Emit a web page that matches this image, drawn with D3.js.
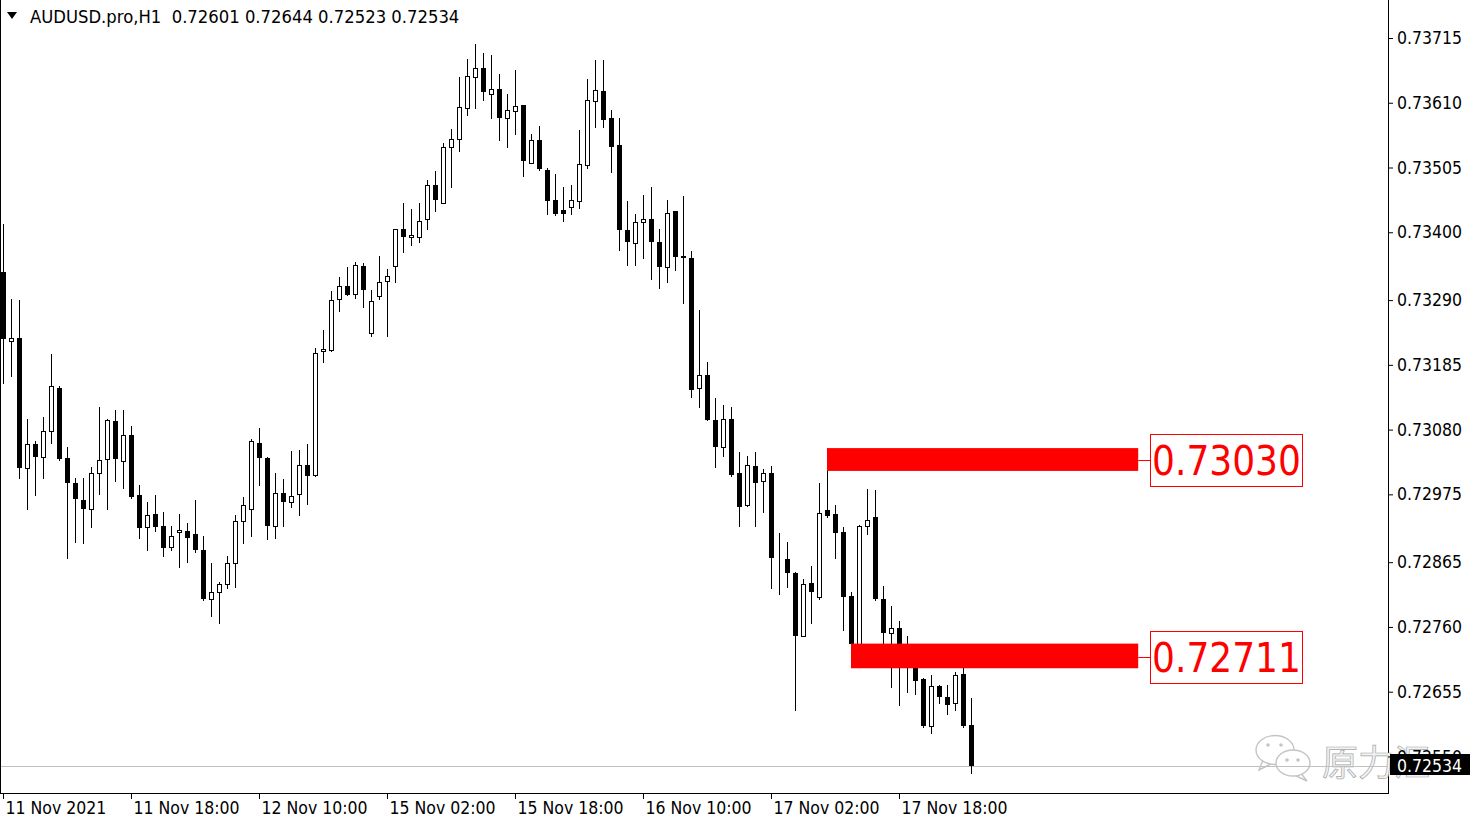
<!DOCTYPE html>
<html>
<head>
<meta charset="utf-8">
<title>AUDUSD.pro,H1</title>
<script src="https://cdn.jsdelivr.net/npm/d3@7"></script>
<style>
  body { margin: 0; background: #fff; }
  svg { display: block; font-family: "DejaVu Sans Condensed", "DejaVu Sans", sans-serif; font-stretch: condensed; }
</style>
</head>
<body>
<div id="chart"></div>
<script>
var symbol = "AUDUSD.pro,H1";

// hourly bars, 11 Nov 2021 02:00 onwards
var opens = [0.73336,0.73223,0.73229,0.73017,0.73056,0.73035,0.73078,0.73148,0.73034,0.72993,
  0.72966,0.72952,0.73009,0.73032,0.73094,0.73029,0.73071,0.72974,0.72922,0.72943,
  0.72923,0.72889,0.72914,0.72916,0.72910,0.72885,0.72806,0.72816,0.72829,0.72863,
  0.72931,0.72952,0.73059,0.73034,0.72924,0.72978,0.72962,0.72976,0.73023,0.73006,
  0.73207,0.73209,0.73292,0.73313,0.73300,0.73345,0.73236,0.73296,0.73321,0.73345,
  0.73406,0.73392,0.73392,0.73421,0.73476,0.73448,0.73538,0.73552,0.73601,0.73651,
  0.73666,0.73624,0.73633,0.73586,0.73597,0.73606,0.73513,0.73550,0.73501,0.73452,
  0.73436,0.73441,0.73451,0.73509,0.73613,0.73629,0.73586,0.73542,0.73404,0.73382,
  0.73416,0.73421,0.73384,0.73344,0.73434,0.73362,0.73358,0.73147,0.73168,0.73096,
  0.73052,0.73098,0.73009,0.72957,0.73021,0.72996,0.73009,0.72870,0.72870,0.72847,
  0.72746,0.72832,0.72808,0.72950,0.72943,0.72914,0.72810,0.72733,0.72923,0.72938,
  0.72805,0.72750,0.72758,0.72725,0.72694,0.72675,0.72600,0.72664,0.72646,0.72636,
  0.72684,0.72601];
var highs = [0.73413,0.73292,0.73290,0.73098,0.73062,0.73100,0.73202,0.73151,0.73052,0.73001,
  0.73001,0.73020,0.73116,0.73097,0.73112,0.73112,0.73086,0.72990,0.72963,0.72974,
  0.72946,0.72923,0.72943,0.72928,0.72966,0.72907,0.72863,0.72833,0.72875,0.72942,
  0.72971,0.73064,0.73082,0.73036,0.73009,0.73000,0.73046,0.73047,0.73057,0.73213,
  0.73242,0.73305,0.73328,0.73343,0.73352,0.73350,0.73307,0.73362,0.73340,0.73406,
  0.73447,0.73437,0.73447,0.73485,0.73499,0.73545,0.73567,0.73651,0.73681,0.73705,
  0.73690,0.73687,0.73657,0.73625,0.73663,0.73607,0.73560,0.73572,0.73505,0.73494,
  0.73474,0.73477,0.73566,0.73649,0.73679,0.73679,0.73598,0.73585,0.73451,0.73430,
  0.73460,0.73473,0.73406,0.73452,0.73435,0.73459,0.73370,0.73274,0.73190,0.73131,
  0.73120,0.73116,0.73044,0.73037,0.73044,0.73016,0.73021,0.72913,0.72897,0.72849,
  0.72837,0.72859,0.72993,0.73050,0.72958,0.72922,0.72817,0.72925,0.72983,0.72982,
  0.72826,0.72794,0.72769,0.72745,0.72695,0.72678,0.72682,0.72666,0.72666,0.72687,
  0.72706,0.72644];
var lows = [0.73155,0.73167,0.73001,0.72952,0.72974,0.73001,0.73059,0.73031,0.72871,0.72898,
  0.72896,0.72922,0.72975,0.72952,0.72996,0.72986,0.72969,0.72905,0.72885,0.72915,
  0.72875,0.72884,0.72857,0.72866,0.72882,0.72804,0.72777,0.72766,0.72823,0.72825,
  0.72896,0.72908,0.72990,0.72902,0.72905,0.72923,0.72954,0.72942,0.72960,0.73005,
  0.73190,0.73208,0.73272,0.73298,0.73293,0.73279,0.73231,0.73291,0.73232,0.73319,
  0.73368,0.73379,0.73385,0.73406,0.73435,0.73447,0.73474,0.73531,0.73590,0.73601,
  0.73615,0.73585,0.73550,0.73538,0.73559,0.73491,0.73512,0.73501,0.73429,0.73428,
  0.73419,0.73429,0.73439,0.73505,0.73570,0.73570,0.73498,0.73371,0.73347,0.73347,
  0.73358,0.73325,0.73309,0.73320,0.73339,0.73286,0.73133,0.73116,0.73095,0.73020,
  0.73038,0.73005,0.72923,0.72956,0.72923,0.72947,0.72823,0.72813,0.72824,0.72625,
  0.72745,0.72767,0.72806,0.72938,0.72871,0.72755,0.72725,0.72725,0.72911,0.72803,
  0.72713,0.72663,0.72634,0.72655,0.72652,0.72598,0.72588,0.72636,0.72619,0.72625,
  0.72598,0.72523];
var closes = [0.73227,0.73228,0.73018,0.73056,0.73035,0.73078,0.73151,0.73033,0.72993,0.72967,
  0.72952,0.73009,0.73031,0.73096,0.73032,0.73072,0.72970,0.72920,0.72942,0.72922,
  0.72888,0.72907,0.72917,0.72905,0.72884,0.72805,0.72817,0.72829,0.72863,0.72931,
  0.72957,0.73061,0.73034,0.72923,0.72978,0.72962,0.72972,0.73023,0.73005,0.73205,
  0.73210,0.73290,0.73313,0.73299,0.73347,0.73307,0.73289,0.73319,0.73329,0.73405,
  0.73392,0.73395,0.73419,0.73476,0.73453,0.73538,0.73552,0.73603,0.73653,0.73666,
  0.73627,0.73633,0.73586,0.73598,0.73605,0.73515,0.73550,0.73502,0.73451,0.73429,
  0.73430,0.73452,0.73511,0.73615,0.73631,0.73582,0.73539,0.73403,0.73385,0.73416,
  0.73421,0.73385,0.73344,0.73432,0.73360,0.73359,0.73145,0.73168,0.73096,0.73052,
  0.73098,0.73006,0.72955,0.73022,0.72993,0.73009,0.72871,0.72870,0.72847,0.72746,
  0.72829,0.72816,0.72944,0.72940,0.72913,0.72809,0.72732,0.72924,0.72933,0.72805,
  0.72750,0.72759,0.72725,0.72694,0.72673,0.72599,0.72665,0.72647,0.72633,0.72682,
  0.72599,0.72534];

var xTickBars = [0, 16, 32, 48, 64, 80, 96, 112];
var xTickLabels = ["11 Nov 2021", "11 Nov 18:00", "12 Nov 10:00", "15 Nov 02:00",
  "15 Nov 18:00", "16 Nov 10:00", "17 Nov 02:00", "17 Nov 18:00"];
var yTickValues = [0.73715, 0.73610, 0.73505, 0.73400, 0.73290, 0.73185, 0.73080,
  0.72975, 0.72865, 0.72760, 0.72655, 0.72550];

// marked levels (zone top / bottom, first bar)
var levels = [0.73030, 0.72711];
var levelTops = [0.73050, 0.72733];
var levelBottoms = [0.73013, 0.72693];
var levelStartBars = [103, 106];
var levelEndBar = 141.9;

var W = 1480, H = 826, plotRight = 1388, plotBottom = 793;
var n = closes.length;

var x = d3.scaleLinear().domain([0, n - 1]).range([3, 971]);
var y = d3.scaleLinear().domain([0.72655, 0.73715]).range([691.7, 38]);

var svg = d3.select("#chart").append("svg")
  .attr("width", W).attr("height", H);

svg.append("rect").attr("width", W).attr("height", H).attr("fill", "#fff");

// frame (left, right, bottom)
svg.append("path")
  .attr("d", "M0.5,0 V" + (plotBottom + 0.5) + " H" + (plotRight + 0.5) + " V0")
  .attr("fill", "none").attr("stroke", "#000").attr("shape-rendering", "crispEdges");

// watermark
var wm = svg.append("g").attr("stroke", "#c4c4c4").attr("stroke-width", 1.4).attr("fill", "#fff");
wm.append("path").attr("d", "M1263,760 L1259,770 L1271,764 Z");
wm.append("ellipse").attr("cx", 1275).attr("cy", 750).attr("rx", 19).attr("ry", 14.5);
wm.append("path").attr("d", "M1300,772 L1307,781 L1294,775 Z");
wm.append("ellipse").attr("cx", 1293).attr("cy", 763).attr("rx", 17).attr("ry", 13);
wm.selectAll("circle.e1").data([[1268, 745], [1281, 745], [1287, 760], [1298, 760]])
  .enter().append("circle")
  .attr("cx", function(d) { return d[0]; }).attr("cy", function(d) { return d[1]; })
  .attr("r", 1.8).attr("fill", "#c4c4c4").attr("stroke", "none");
svg.append("text")
  .attr("x", 1322).attr("y", 776)
  .attr("font-family", "'Noto Sans CJK SC', sans-serif")
  .attr("font-size", 36)
  .attr("fill", "#f2f2f2").attr("stroke", "#a8a8a8").attr("stroke-width", 0.7)
  .text("原力汇");

// current price line
svg.append("line")
  .attr("x1", 1).attr("x2", plotRight)
  .attr("y1", Math.round(y(closes[n - 1])) + 0.5).attr("y2", Math.round(y(closes[n - 1])) + 0.5)
  .attr("stroke", "#c0c0c0").attr("stroke-width", 1);

// candles
var bars = d3.range(n);
var cg = svg.append("g").attr("shape-rendering", "crispEdges");
var candle = cg.selectAll("g.c").data(bars).enter().append("g");

candle.append("line")
  .attr("x1", function(i) { return Math.round(x(i)) + 0.5; })
  .attr("x2", function(i) { return Math.round(x(i)) + 0.5; })
  .attr("y1", function(i) { return Math.round(y(highs[i])); })
  .attr("y2", function(i) { return Math.round(y(lows[i])) + 1; })
  .attr("stroke", "#000");

candle.append("rect")
  .attr("x", function(i) {
    var c = Math.round(x(i));
    return closes[i] >= opens[i] ? c - 1.5 : c - 2;
  })
  .attr("y", function(i) {
    var t = Math.round(y(Math.max(opens[i], closes[i])));
    return closes[i] >= opens[i] ? t + 0.5 : t;
  })
  .attr("width", function(i) { return closes[i] >= opens[i] ? 4 : 5; })
  .attr("height", function(i) {
    var h = Math.round(y(Math.min(opens[i], closes[i]))) - Math.round(y(Math.max(opens[i], closes[i])));
    return closes[i] >= opens[i] ? Math.max(h, 0) : Math.max(h, 1);
  })
  .attr("fill", function(i) { return closes[i] >= opens[i] ? "#fff" : "#000"; })
  .attr("stroke", function(i) { return closes[i] >= opens[i] ? "#000" : "none"; });

// level zones and labels
var lg = svg.append("g");
levels.forEach(function(v, k) {
  var x0 = x(levelStartBars[k]), x1 = x(levelEndBar);
  lg.append("rect")
    .attr("x", x0).attr("y", y(levelTops[k]))
    .attr("width", x1 - x0).attr("height", y(levelBottoms[k]) - y(levelTops[k]))
    .attr("fill", "#ff0000");
  lg.append("line")
    .attr("x1", x1).attr("x2", 1150.5)
    .attr("y1", Math.round(y(v)) + 0.5).attr("y2", Math.round(y(v)) + 0.5)
    .attr("stroke", "#ff0000");
  lg.append("rect")
    .attr("x", 1150.5).attr("y", Math.round(y(v)) - 25.5)
    .attr("width", 152).attr("height", 52)
    .attr("fill", "#fff").attr("stroke", "#ff0000");
  lg.append("text")
    .attr("x", 1226.5).attr("y", Math.round(y(v)) + 15)
    .attr("text-anchor", "middle")
    .attr("font-size", 40).attr("fill", "#ff0000")
    .text(d3.format(".5f")(v));
});

// axes
var yAxis = svg.append("g")
  .attr("transform", "translate(" + plotRight + ",0)")
  .call(d3.axisRight(y).tickValues(yTickValues).tickSize(5).tickPadding(4)
    .tickFormat(d3.format(".5f")));
yAxis.select(".domain").remove();
yAxis.attr("font-family", null);
yAxis.selectAll("text").attr("font-size", 17.5).attr("fill", "#000");
yAxis.selectAll("line").attr("stroke", "#000");

var xAxis = svg.append("g")
  .attr("transform", "translate(0," + plotBottom + ")")
  .call(d3.axisBottom(x).tickValues(xTickBars).tickSize(6)
    .tickFormat(function(d, i) { return xTickLabels[i]; }));
xAxis.select(".domain").remove();
xAxis.attr("font-family", null);
xAxis.selectAll("text").attr("font-size", 17.5).attr("fill", "#000")
  .attr("text-anchor", "start").attr("dx", 2);
xAxis.selectAll("line").attr("stroke", "#000");

// last price label (sits over the lowest tick label, as in the terminal)
var lastY = y(closes[n - 1]);
svg.append("rect")
  .attr("x", plotRight + 2).attr("y", Math.round(lastY) - 12)
  .attr("width", 80).attr("height", 21).attr("fill", "#000");
svg.append("text")
  .attr("x", 1397).attr("y", Math.round(lastY) + 6)
  .attr("font-size", 17.5).attr("fill", "#fff")
  .text(d3.format(".5f")(closes[n - 1]));

// header
svg.append("path").attr("d", "M7,12 L17,12 L12,19 Z").attr("fill", "#000");
svg.append("text")
  .attr("x", 30).attr("y", 23)
  .attr("font-size", 18.3).attr("fill", "#000")
  .attr("xml:space", "preserve")
  .text(symbol + "  " + [opens[n - 1], highs[n - 1], lows[n - 1], closes[n - 1]]
    .map(d3.format(".5f")).join(" "));
</script>
</body>
</html>
